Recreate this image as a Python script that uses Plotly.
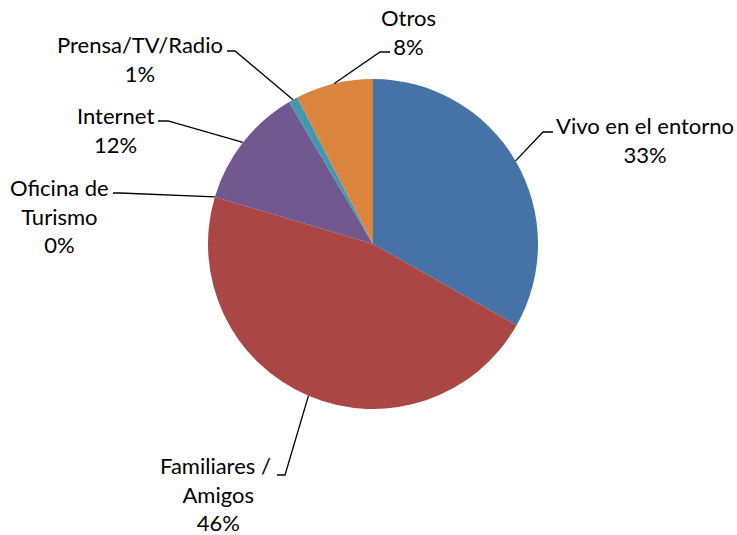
import math
import plotly.graph_objects as go

# ---- data ----
categories = ["Vivo en el entorno", "Familiares / Amigos", "Oficina de Turismo",
              "Internet", "Prensa/TV/Radio", "Otros"]
label_texts = ["Vivo en el entorno", "Familiares /\u00a0<br>Amigos", "Oficina de<br>Turismo",
               "Internet", "Prensa/TV/Radio", "Otros"]
values = [33.2, 46.4, 0.0, 11.9, 0.9, 7.6]

# ---- style / layout ----
colors = ["#4572A7", "#AA4643", "#89A54E", "#71588F", "#4198AF", "#DB843D"]
W, H = 737, 535
CX, CY, R = 373, 244, 165
FONT = dict(family="Lato", size=22, color="#000000")

# label layout (pixel positions of label centres, leader elbows and leader ends)
label_pos = [(645, 140), (219, 494), (59, 216), (115, 130), (140, 59), (408, 32)]
elbows = [(543, 132), (285, 475), (120, 193), (168, 121), (235, 51), (380, 52)]
ends = [(553, 132), (277, 475), (113, 193), (158, 121), (227, 51), (390, 52)]


def px(x):
    return x / W


def py(y):
    return 1 - y / H


fig = go.Figure()
fig.add_trace(go.Pie(
    labels=categories, values=values, sort=False, direction="clockwise",
    rotation=0, marker=dict(colors=colors, line=dict(width=0)),
    textinfo="none", hoverinfo="label+percent", showlegend=False,
    domain=dict(x=[px(CX - R), px(CX + R)], y=[py(CY + R), py(CY - R)]),
))

total = sum(values)
cum = 0.0
shapes = []
annotations = []
for i, v in enumerate(values):
    mid = (cum + v / 2) / total * 2 * math.pi
    cum += v
    sx = CX + R * math.sin(mid)
    sy = CY - R * math.cos(mid)
    ex, ey = elbows[i]
    tx, ty = ends[i]
    path = f"M {px(sx)},{py(sy)} L {px(ex)},{py(ey)} L {px(tx)},{py(ty)}"
    shapes.append(dict(type="path", xref="paper", yref="paper", path=path,
                       line=dict(color="#000000", width=1.3)))
    pct = f"{round(v / total * 100)}%"
    lx, ly = label_pos[i]
    annotations.append(dict(
        x=px(lx), y=py(ly), xref="paper", yref="paper",
        text=f"{label_texts[i]}<br>{pct}", showarrow=False,
        xanchor="center", yanchor="middle", align="center", font=FONT,
    ))

fig.update_layout(
    width=W, height=H, margin=dict(l=0, r=0, t=0, b=0),
    paper_bgcolor="white", plot_bgcolor="white",
    shapes=shapes, annotations=annotations,
)

fig.write_html("out.html")
